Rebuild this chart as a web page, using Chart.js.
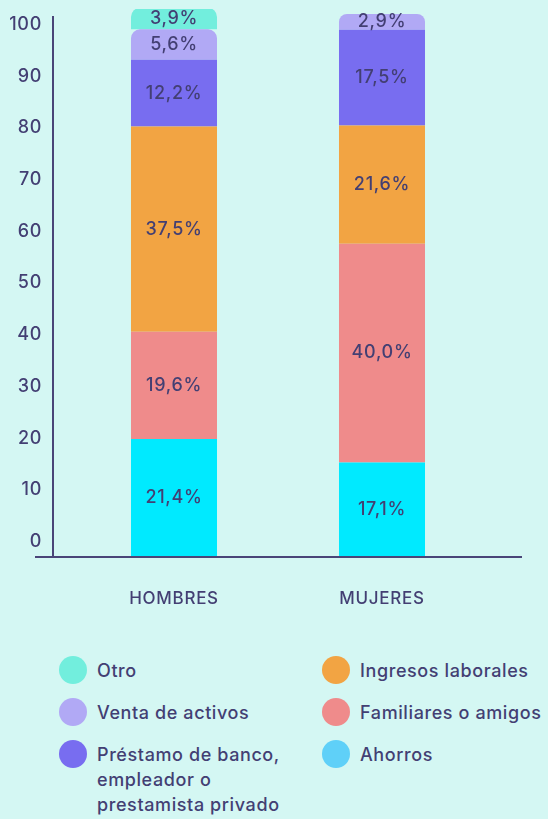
<!DOCTYPE html>
<html>
<head>
<meta charset="utf-8">
<script src="https://cdn.jsdelivr.net/npm/chart.js@4/dist/chart.umd.min.js"></script>
<style>
  html, body { margin: 0; padding: 0; }
  body { width: 548px; height: 819px; background: #d4f7f3; position: relative; overflow: hidden;
         font-family: Inter, "Open Sans", sans-serif; color: #433f73; }
  #wrap { position: absolute; left: 0; top: 0; width: 548px; height: 620px; }
  .col { position: absolute; top: 656px; }
  .item { display: flex; align-items: flex-start; margin-bottom: 14px; }
  .dot { width: 28px; height: 28px; border-radius: 50%; flex: none; }
  .txt { margin-left: 10px; font-size: 18px; font-weight: 500; letter-spacing: 0.6px;
         line-height: 25px; padding-top: 2px; white-space: nowrap; }
</style>
</head>
<body>
<div id="wrap"><canvas id="chart"></canvas></div>
<div class="col" id="legLeft" style="left:59px"></div>
<div class="col" id="legRight" style="left:322px"></div>
<script>
// categories and series (values in %)
const categories = ['HOMBRES', 'MUJERES'];
const ahorros = [21.4, 17.1];
const familiares = [19.6, 40.0];
const ingresos = [37.5, 21.6];
const prestamo = [12.2, 17.5];
const venta = [5.6, 2.9];
const otro = [3.9, null];
const seriesNames = ['Ahorros', 'Familiares o amigos', 'Ingresos laborales',
  'Préstamo de banco, empleador o prestamista privado', 'Venta de activos', 'Otro'];
const yTickStep = 10;

const textColor = '#433f73';
const barColors = ['#00eaff', '#ef8b8b', '#f2a443', '#786df0', '#b1a9f5', '#72eedd'];
const dotColors = ['#5fd0f8', '#ef8b8b', '#f2a443', '#786df0', '#b1a9f5', '#72eedd'];
const fontFamily = 'Inter, "Open Sans", sans-serif';

const seriesValues = [ahorros, familiares, ingresos, prestamo, venta, otro];
const datasets = seriesValues.map((vals, i) => ({
  label: seriesNames[i],
  data: vals,
  backgroundColor: barColors[i],
  borderWidth: 0,
  borderRadius: i >= 4 ? {topLeft: 9, topRight: 9} : 0,
  categoryPercentage: 0.4135,
  barPercentage: 1,
  yAxisID: 'y'
}));

const fmt = v => v.toFixed(1).replace('.', ',') + '%';

const valueLabels = {
  id: 'valueLabels',
  beforeDraw(chart) {
    chart.ctx.letterSpacing = '0.7px';
  },
  afterDatasetsDraw(chart) {
    const ctx = chart.ctx;
    const a = chart.chartArea;
    // axis lines
    ctx.save();
    ctx.strokeStyle = '#4a4578';
    ctx.lineWidth = 2;
    ctx.beginPath();
    ctx.moveTo(a.left - 17, a.top + 7);
    ctx.lineTo(a.left - 17, a.bottom + 1);
    ctx.moveTo(a.left - 35, a.bottom + 1);
    ctx.lineTo(a.right + 36, a.bottom + 1);
    ctx.stroke();
    // labels inside segments
    ctx.fillStyle = textColor;
    ctx.font = '500 18px ' + fontFamily;
    ctx.textAlign = 'center';
    ctx.textBaseline = 'middle';
    chart.data.datasets.forEach((ds, di) => {
      const meta = chart.getDatasetMeta(di);
      meta.data.forEach((el, j) => {
        const v = ds.data[j];
        if (v == null || v <= 0) return;
        ctx.fillText(fmt(v), el.x, (el.y + el.base) / 2);
      });
    });
    ctx.restore();
  }
};

new Chart(document.getElementById('chart'), {
  type: 'bar',
  data: { labels: categories, datasets: datasets },
  options: {
    responsive: true,
    maintainAspectRatio: false,
    animation: false,
    layout: { padding: { top: 9, right: 62, left: 0, bottom: 0 } },
    plugins: { legend: { display: false }, tooltip: { enabled: false } },
    scales: {
      x: {
        stacked: true,
        grid: { display: false },
        border: { display: false },
        ticks: { color: textColor, font: { size: 17, weight: 500, family: fontFamily }, padding: 25 },
        afterFit: s => { s.height = 64; }
      },
      y: {
        stacked: true,
        display: false,
        min: 0,
        max: 100
      },
      // tick labels as drawn in the original (slightly offset from the bar scale)
      yTicks: {
        type: 'linear',
        position: 'left',
        min: -2.8,
        max: 103,
        grid: { display: false, drawTicks: false },
        border: { display: false },
        ticks: { stepSize: yTickStep, includeBounds: false, color: textColor,
                 font: { size: 18, weight: 500, family: fontFamily }, padding: 28 },
        afterFit: s => { s.width = 70; s.paddingTop = 0; s.paddingBottom = 0; }
      }
    }
  },
  plugins: [valueLabels]
});

// legend
const legendLeft = [5, 4, 3];
const legendRight = [2, 1, 0];
const legendLines = {3: ['Préstamo de banco,', 'empleador o', 'prestamista privado']};
function buildLegend(el, idxs) {
  idxs.forEach(i => {
    const item = document.createElement('div');
    item.className = 'item';
    const dot = document.createElement('div');
    dot.className = 'dot';
    dot.style.background = dotColors[i];
    const txt = document.createElement('div');
    txt.className = 'txt';
    (legendLines[i] || [seriesNames[i]]).forEach((line, k) => {
      if (k) txt.appendChild(document.createElement('br'));
      txt.appendChild(document.createTextNode(line));
    });
    item.appendChild(dot);
    item.appendChild(txt);
    el.appendChild(item);
  });
}
buildLegend(document.getElementById('legLeft'), legendLeft);
buildLegend(document.getElementById('legRight'), legendRight);
</script>
</body>
</html>
